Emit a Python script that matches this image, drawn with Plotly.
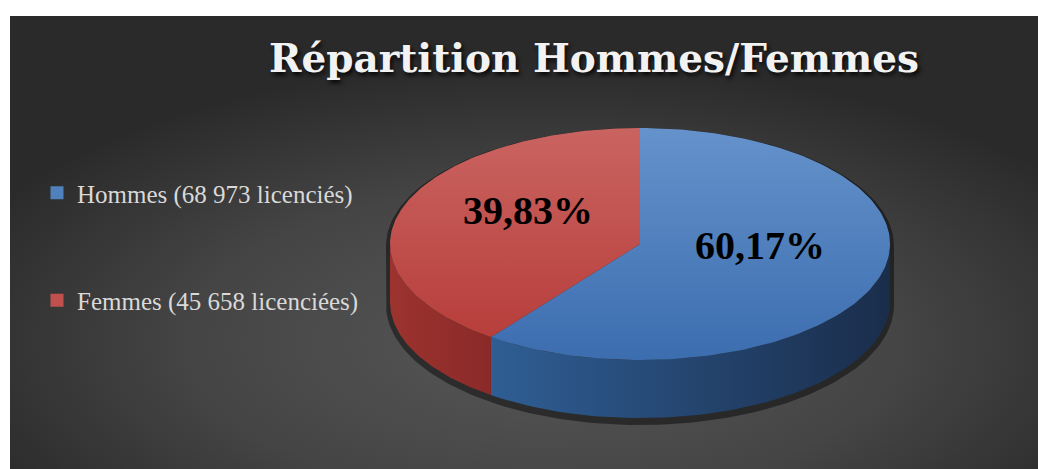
import base64
import numpy as np
import plotly.graph_objects as go

# ---- data ----
categories = ["Hommes", "Femmes"]
licencies = [68973, 45658]
legend_labels = ["Hommes (68 973 licenciés)", "Femmes (45 658 licenciées)"]
pct_labels = ["60,17%", "39,83%"]
title_text = "Répartition Hommes/Femmes"

# ---- style ----
W, H = 1038, 469
CX, CY, RX, RY, DEPTH = 640, 244, 250, 116, 58
top_grad = [["#3c6daf", "#6592cb"], ["#b73e3b", "#ca6461"]]  # [bottom, top]
side_grad = [["#2f5e94", "#1a2d4b"], ["#9c332f", "#8a2a28"]]
legend_colors = ["#4f81bd", "#c0504d"]

total = sum(licencies)
fracs = [v / total for v in licencies]

# slices start at 12 o'clock and go clockwise
bounds = []
start = 90.0
for f in fracs:
    end = start - 360.0 * f
    bounds.append((end, start))  # math-angle range [end, start]
    start = end


def pt(theta_deg, dy=0.0):
    t = np.radians(theta_deg)
    return CX + RX * np.cos(t), CY - RY * np.sin(t) + dy


fig = go.Figure()

# shadow silhouette
th_top = np.linspace(0, 180, 120)
th_bot = np.linspace(180, 360, 120)
sx = list(CX + (RX + 4) * np.cos(np.radians(th_top))) + list(CX + (RX + 4) * np.cos(np.radians(th_bot)))
sy = list(CY - (RY + 2) * np.sin(np.radians(th_top)) + 2) + list(CY - (RY + 4) * np.sin(np.radians(th_bot)) + DEPTH + 3)
fig.add_trace(go.Scatter(x=sx, y=sy, fill="toself", mode="lines", line=dict(width=0),
                         fillcolor="rgba(0,0,0,0.45)", hoverinfo="skip", showlegend=False))

# side walls (front half: 180..360 in math angles)
for i, (a, b) in enumerate(bounds):
    segs = []
    for shift in (-360, 0, 360):
        s0, s1 = max(a + shift, 180), min(b + shift, 360)
        if s1 > s0:
            segs.append((s0, s1))
    for s0, s1 in segs:
        th = np.linspace(s0, s1, 80)
        xs_t, ys_t = pt(th)
        xs_b, ys_b = pt(th[::-1], DEPTH)
        fig.add_trace(go.Scatter(
            x=list(xs_t) + list(xs_b), y=list(ys_t) + list(ys_b),
            fill="toself", mode="lines", line=dict(width=0),
            fillgradient=dict(type="horizontal",
                              colorscale=[[0, side_grad[i][0]], [1, side_grad[i][1]]]),
            hoverinfo="skip", showlegend=False))

# top faces
for i, (a, b) in enumerate(bounds):
    th = np.linspace(b, a, 160)
    xs, ys = pt(th)
    fig.add_trace(go.Scatter(
        x=[CX] + list(xs) + [CX], y=[CY] + list(ys) + [CY],
        fill="toself", mode="lines", line=dict(width=0),
        fillgradient=dict(type="vertical",
                          colorscale=[[0, top_grad[i][0]], [1, top_grad[i][1]]]),
        hovertext=f"{categories[i]}: {licencies[i]}", hoverinfo="text", showlegend=False))

# percentage labels
label_pos = [(760, 245), (528, 210)]
for i in range(len(categories)):
    fig.add_annotation(x=label_pos[i][0], y=label_pos[i][1], text=f"<b>{pct_labels[i]}</b>",
                       showarrow=False, xref="x", yref="y",
                       font=dict(family="Liberation Serif", size=40, color="black"))

# legend entries
for i in range(len(categories)):
    fig.add_trace(go.Scatter(x=[None], y=[None], mode="markers", name=legend_labels[i],
                             legendgroup=categories[i],
                             marker=dict(symbol="square", size=13, color=legend_colors[i])))

# background radial gradient as svg image
BX, BY = 10, 16
BW, BH = W - BX, H - BY
svg = f'''<svg xmlns="http://www.w3.org/2000/svg" width="{BW}" height="{BH}" viewBox="0 0 {BW} {BH}" preserveAspectRatio="none">
<defs><radialGradient id="g" cx="0.52" cy="0.72" r="0.62" gradientUnits="objectBoundingBox">
<stop offset="0" stop-color="#575757"/><stop offset="0.55" stop-color="#454545"/><stop offset="1" stop-color="#2a2a2a"/>
</radialGradient></defs><rect width="{BW}" height="{BH}" fill="url(#g)"/></svg>'''
src = "data:image/svg+xml;base64," + base64.b64encode(svg.encode()).decode()

fig.update_layout(
    width=W, height=H,
    margin=dict(l=0, r=0, t=0, b=0),
    paper_bgcolor="white", plot_bgcolor="rgba(0,0,0,0)",
    xaxis=dict(range=[0, W], visible=False, fixedrange=True),
    yaxis=dict(range=[H, 0], visible=False, fixedrange=True),
    images=[dict(source=src, xref="paper", yref="paper", x=BX / W, y=1 - BY / H,
                 sizex=BW / W, sizey=BH / H, xanchor="left", yanchor="top",
                 sizing="stretch", layer="below")],
    title=dict(text=f"<b>{title_text}</b>", x=594 / W, xanchor="center",
               y=1 - 58 / H, yanchor="middle",
               font=dict(family="DejaVu Serif", size=39, color="#f2f2f2",
                         shadow="2px 3px 4px rgba(0,0,0,0.85)")),
    legend=dict(x=37 / W, xanchor="left", y=1 - 170 / H, yanchor="top",
                font=dict(family="Liberation Serif", size=25, color="#d9d9d9"),
                bgcolor="rgba(0,0,0,0)", tracegroupgap=72, itemwidth=30),
    showlegend=True,
)

fig.write_html(
    "out.html",
    config={"displayModeBar": False},
    post_script="document.body.style.margin='0';document.body.style.overflow='hidden';",
)
